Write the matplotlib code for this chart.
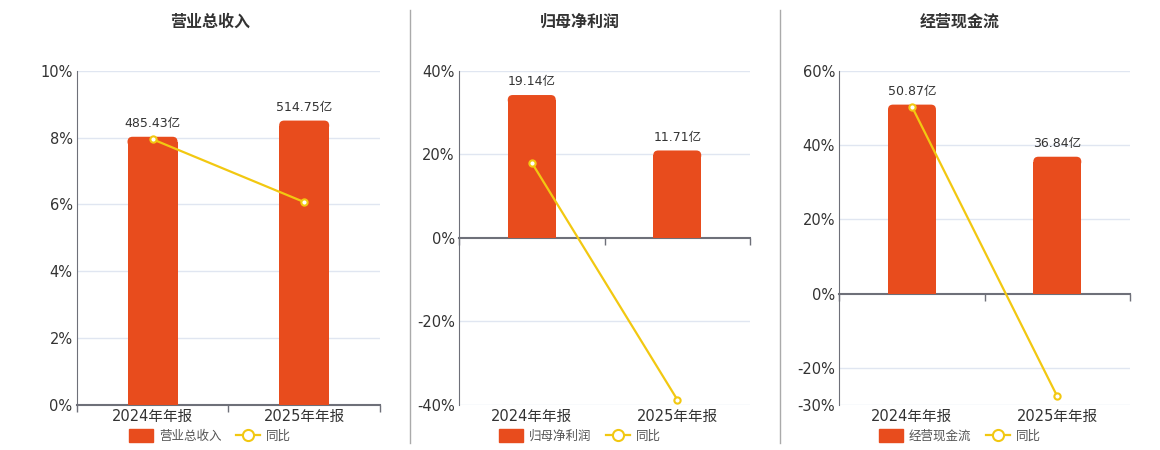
import matplotlib
matplotlib.use("Agg")
import matplotlib.pyplot as plt
from matplotlib.patches import FancyBboxPatch
from matplotlib.lines import Line2D
from matplotlib.ticker import FuncFormatter

plt.rcParams['font.family'] = ['DejaVu Sans', 'Noto Sans CJK SC']

# data
periods = ['2024年年报', '2025年年报']
titles = ['营业总收入', '归母净利润', '经营现金流']
values = [[485.43, 514.75], [19.14, 11.71], [50.87, 36.84]]
yoy = [[7.95, 6.07], [18.0, -38.7], [50.3, -27.7]]
pct_ticks = [[0, 2, 4, 6, 8, 10], [-40, -20, 0, 20, 40], [-30, -20, 0, 20, 40, 60]]
bar_limits = [(0, 605), (-22.4, 22.4), (-30, 60)]

BAR = '#E84C1D'
LINE = '#F2C811'
GRID = '#E0E6F1'
AXIS = '#6E7079'
TEXT = '#333333'

W, H = 1160, 450
fig = plt.figure(figsize=(W / 100, H / 100), dpi=100)

# axes boxes in pixels: left, right, top, bottom
boxes = [(76.7, 380, 70.7, 405), (459, 750, 70.7, 405), (839.3, 1130, 70.7, 405)]
centers = [210, 580, 960]


def rounded_bar(ax, x, h, width, radius_px):
    # bar with rounded top corners, built in data coords
    inv = ax.transData.inverted()
    x0, y0 = inv.transform((0, 0))
    x1, y1 = inv.transform((radius_px, radius_px))
    rx, ry = abs(x1 - x0), abs(y1 - y0)
    left = x - width / 2
    ax.add_patch(plt.Rectangle((left, 0), width, h - ry, color=BAR, lw=0, zorder=2))
    ax.add_patch(FancyBboxPatch((left, h - 2 * ry), width, 2 * ry,
                                boxstyle='round,pad=0,rounding_size=%f' % rx,
                                mutation_aspect=ry / rx, color=BAR, lw=0, zorder=2))


for i in range(3):
    l, r, t, b = boxes[i]
    pos = [l / W, (H - b) / H, (r - l) / W, (b - t) / H]
    ax = fig.add_axes(pos)
    ticks = pct_ticks[i]
    ax.set_ylim(ticks[0], ticks[-1])
    ax.set_yticks(ticks)
    ax.yaxis.set_major_formatter(FuncFormatter(lambda v, p: '%d%%' % v))
    ax.set_xlim(-0.5, 1.5)
    ax.set_xticks([-0.5, 0.5, 1.5])
    ax.set_xticklabels([])
    ax.tick_params(axis='x', length=5, color=AXIS, width=1)
    ax.tick_params(axis='y', length=0, pad=3, labelsize=10.5, labelcolor=TEXT)
    for tick in ticks:
        if tick != 0:
            ax.axhline(tick, color=GRID, lw=1, zorder=0)
    for s in ['top', 'right']:
        ax.spines[s].set_visible(False)
    ax.spines['left'].set_color(AXIS)
    ax.spines['bottom'].set_color(AXIS)
    ax.spines['bottom'].set_linewidth(1.5)
    ax.spines['bottom'].set_position(('data', 0))
    for j, p in enumerate(periods):
        ax.text(j, -0.012, p, transform=ax.get_xaxis_transform(), ha='center', va='top',
                fontsize=10.5, color=TEXT)

    # bars on their own hidden scale
    ax2 = ax.twinx()
    ax2.set_ylim(*bar_limits[i])
    ax2.set_xlim(-0.5, 1.5)
    ax2.axis('off')

    # yoy line on top
    ax3 = ax.twinx()
    ax3.set_ylim(ticks[0], ticks[-1])
    ax3.set_xlim(-0.5, 1.5)
    ax3.axis('off')
    ax3.plot(range(2), yoy[i], color=LINE, lw=1.6, marker='o', markersize=4.5,
             markerfacecolor='white', markeredgecolor=LINE, markeredgewidth=1.5, zorder=5)

    fig.canvas.draw()
    for j, v in enumerate(values[i]):
        rounded_bar(ax2, j, v, 0.33, 5)
        ax2.annotate('%.2f亿' % v, (j, v), xytext=(0, 5), textcoords='offset points',
                     ha='center', va='bottom', fontsize=9, color=TEXT)

    fig.text(centers[i] / W, 1 - 22 / H, titles[i], ha='center', va='center',
             fontsize=11.5, fontweight='bold', color=TEXT)

    handles = [FancyBboxPatch((0, 0), 1, 1, boxstyle='round,pad=0,rounding_size=0.25', color=BAR),
               Line2D([], [], color=LINE, lw=1.6, marker='o', markersize=8,
                      markerfacecolor='white', markeredgecolor=LINE, markeredgewidth=1.5)]
    fig.legend(handles, [titles[i], '同比'], loc='center', bbox_to_anchor=(centers[i] / W, 1 - 436 / H),
               ncol=2, frameon=False, fontsize=9, handlelength=1.9, handleheight=1.2,
               columnspacing=1.2, handletextpad=0.5, labelcolor='#555555')

# panel dividers
for x in [410, 780]:
    fig.add_artist(Line2D([x / W, x / W], [1 - 10 / H, 1 - 443 / H], color='#AAAAAA', lw=1))

fig.savefig('out.png', dpi=100)
